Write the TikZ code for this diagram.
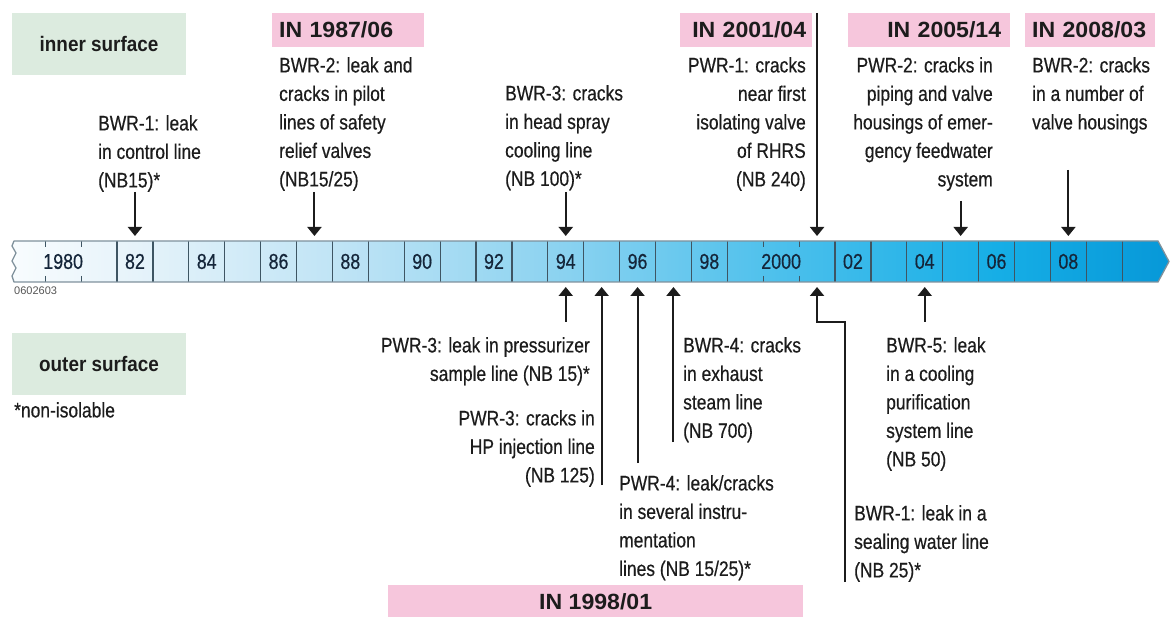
\documentclass[tikz,border=0pt]{standalone}
\usepackage{fontspec}
\setmainfont{Liberation Sans}[FakeStretch=0.83,FakeBold=0.5]
\newfontfamily\tagfont{Liberation Sans}[FakeStretch=1.05]
\newfontfamily\sidefont{Liberation Sans}[FakeStretch=0.9]
\newfontfamily\plainsans{Liberation Sans}
\usetikzlibrary{arrows.meta}

\definecolor{ink}{HTML}{1C1C1C}
\definecolor{yearink}{HTML}{15263A}
\definecolor{tagpink}{HTML}{F6C6DC}
\definecolor{sidegreen}{HTML}{DCEBDF}
\definecolor{cellline}{HTML}{3E5563}
\definecolor{barline}{HTML}{7F919C}
\definecolor{codegray}{HTML}{555555}
% colour stops along the time bar, light on the left, deep cyan on the right
\definecolor{s0}{HTML}{F8FCFE}
\definecolor{s1}{HTML}{E6F3FA}
\definecolor{s2}{HTML}{BDE3F5}
\definecolor{s3}{HTML}{8AD2F0}
\definecolor{s4}{HTML}{4CC0EC}
\definecolor{s5}{HTML}{16AEE6}
\definecolor{s6}{HTML}{0798D8}
\pgfdeclarehorizontalshading{barshade}{100bp}{color(0bp)=(s0); color(25bp)=(s0);
  color(30.3bp)=(s1); color(39.6bp)=(s2); color(48.9bp)=(s3); color(58.2bp)=(s4);
  color(67.6bp)=(s5); color(75bp)=(s6); color(100bp)=(s6)}

\begin{document}
\begin{tikzpicture}[x=1pt,y=-1pt,
  every node/.style={inner sep=0pt, text=ink},
  note/.style={font=\fontsize{21}{28.5}\selectfont},
  yearlab/.style={font=\fontsize{21.5}{24}\selectfont, text=yearink},
  tagbox/.style={fill=tagpink, font={\tagfont\bfseries\fontsize{22}{24}\selectfont},
    minimum height=34pt},
  sidebox/.style={fill=sidegreen, font={\sidefont\bfseries\fontsize{21}{24}\selectfont},
    minimum width=174pt, minimum height=62pt},
  evarrow/.style={draw=ink, line width=2pt, -{Triangle[width=14pt,length=9pt]}},
  divider/.style={draw=cellline, line width=1.2pt}]
\useasboundingbox (0,0) rectangle (1170,617);

% one cell per year: centre, arrow contact points above and below the bar
\foreach \k in {-2,...,28}{
  \pgfmathsetmacro\cx{117+(\k)*35.9+17.95}
  \pgfmathtruncatemacro\yr{1982+\k}
  \coordinate (y\yr) at (\cx,261.5);
  \coordinate (top\yr) at (\cx,236);
  \coordinate (bot\yr) at (\cx,287);
}

% time bar with torn left edge and pointed right end
\shade[shading=barshade]
  (14,241) -- (1158,241) -- (1169,261.5) -- (1158,282) -- (14,282)
  -- (12,276) -- (16,268) -- (12,261) -- (16,253) -- (12,246) -- cycle;
\foreach \k in {0,...,17}{
  \pgfmathsetmacro\dx{117+(\k)*35.9}
  \draw[divider] (\dx,241) -- (\dx,282);
}
\foreach \k in {20,...,28}{
  \pgfmathsetmacro\dx{117+(\k)*35.9}
  \draw[divider] (\dx,241) -- (\dx,282);
}
\foreach \k in {-2,-1,18,19}{
  \pgfmathsetmacro\dx{117+(\k)*35.9}
  \draw[divider] (\dx,241) -- (\dx,247) (\dx,276) -- (\dx,282);
}
\draw[draw=barline, line width=1.3pt, line join=round]
  (14,241) -- (1158,241) -- (1169,261.5) -- (1158,282) -- (14,282)
  -- (12,276) -- (16,268) -- (12,261) -- (16,253) -- (12,246) -- cycle;

\foreach \yr/\lab in {1980/1980,1982/82,1984/84,1986/86,1988/88,1990/90,1992/92,
  1994/94,1996/96,1998/98,2000/2000,2002/02,2004/04,2006/06,2008/08}
  \node[yearlab] (lab\yr) at (y\yr) {\lab};

\node[anchor=west, font={\plainsans\fontsize{11}{12}\selectfont}, text=codegray]
  (code) at (14,291) {0602603};

% legend
\node[sidebox] (inner) at (99,44) {inner surface};
\node[sidebox] (outer) at (99,364) {outer surface};
\node[note, anchor=north west] (nonisol) at (14,402) {*non-isolable};

% year tags
\node[tagbox, anchor=north west, inner xsep=7pt, text width=138pt, align=left]
  (tag87) at (272,13) {IN 1987/06};
\node[tagbox, anchor=north west, inner xsep=6pt, text width=120pt, align=right]
  (tag01) at (680,13) {IN 2001/04};
\node[tagbox, anchor=north west, inner xsep=9pt, text width=144pt, align=right]
  (tag05) at (848,13) {IN 2005/14};
\node[tagbox, anchor=north west, inner xsep=7pt, text width=116pt, align=left]
  (tag08) at (1025,13) {IN 2008/03};
\node[tagbox, anchor=north west, minimum width=415pt, minimum height=34pt]
  (tag98) at (388,585) {IN 1998/01};

% events on the inner surface
\node[note, anchor=north west, align=left] (t82) at (98,115)
  {BWR-1: leak\\in control line\\(NB15)*};
\node[note, anchor=north west, align=left] (t87) at (279,57)
  {BWR-2: leak and\\cracks in pilot\\lines of safety\\relief valves\\(NB15/25)};
\node[note, anchor=north west, align=left] (t94) at (505,85)
  {BWR-3: cracks\\in head spray\\cooling line\\(NB 100)*};
\node[note, anchor=north east, align=right] (t01) at (806,57)
  {PWR-1: cracks\\near first\\isolating valve\\of RHRS\\(NB 240)};
\node[note, anchor=north east, align=right] (t05) at (993,57)
  {PWR-2: cracks in\\piping and valve\\housings of emer-\\gency feedwater\\system};
\node[note, anchor=north west, align=left] (t08) at (1032,57)
  {BWR-2: cracks\\in a number of\\valve housings};

% events on the outer surface
\node[note, anchor=north east, align=right] (b94) at (590,337)
  {PWR-3: leak in pressurizer\\sample line (NB 15)*};
\node[note, anchor=north east, align=right] (b95) at (595,410)
  {PWR-3: cracks in\\HP injection line\\(NB 125)};
\node[note, anchor=north west, align=left] (b96) at (619,475)
  {PWR-4: leak/cracks\\in several instru-\\mentation\\lines (NB 15/25)*};
\node[note, anchor=north west, align=left] (b97) at (683,337)
  {BWR-4: cracks\\in exhaust\\steam line\\(NB 700)};
\node[note, anchor=north west, align=left] (b01) at (854,505)
  {BWR-1: leak in a\\sealing water line\\(NB 25)*};
\node[note, anchor=north west, align=left] (b04) at (886,337)
  {BWR-5: leak\\in a cooling\\purification\\system line\\(NB 50)};

% arrow feet
\coordinate (a82) at (top1982 |- 0,192);
\coordinate (a87) at (top1987 |- 0,192);
\coordinate (a94) at (top1994 |- 0,192);
\coordinate (a01) at (top2001 |- 0,13);
\coordinate (a05) at (top2005 |- 0,201);
\coordinate (a08) at (top2008 |- 0,170);
\coordinate (c94) at (bot1994 |- 0,322);
\coordinate (c95) at (bot1995 |- 0,485);
\coordinate (c96) at (bot1996 |- 0,463);
\coordinate (c97) at (bot1997 |- 0,442);
\coordinate (c01foot) at (845,582);
\coordinate (c01bend) at (845,322);
\coordinate (c04) at (bot2004 |- 0,322);

% pointers onto the bar
\draw[evarrow] (a82) -- (top1982);
\draw[evarrow] (a87) -- (top1987);
\draw[evarrow] (a94) -- (top1994);
\draw[evarrow] (a01) -- (top2001);
\draw[evarrow] (a05) -- (top2005);
\draw[evarrow] (a08) -- (top2008);
\draw[evarrow] (c94) -- (bot1994);
\draw[evarrow] (c95) -- (bot1995);
\draw[evarrow] (c96) -- (bot1996);
\draw[evarrow] (c97) -- (bot1997);
\draw[evarrow] (c01foot) -- (c01bend) -- (bot2001 |- c01bend) -- (bot2001);
\draw[evarrow] (c04) -- (bot2004);
\end{tikzpicture}
\end{document}
